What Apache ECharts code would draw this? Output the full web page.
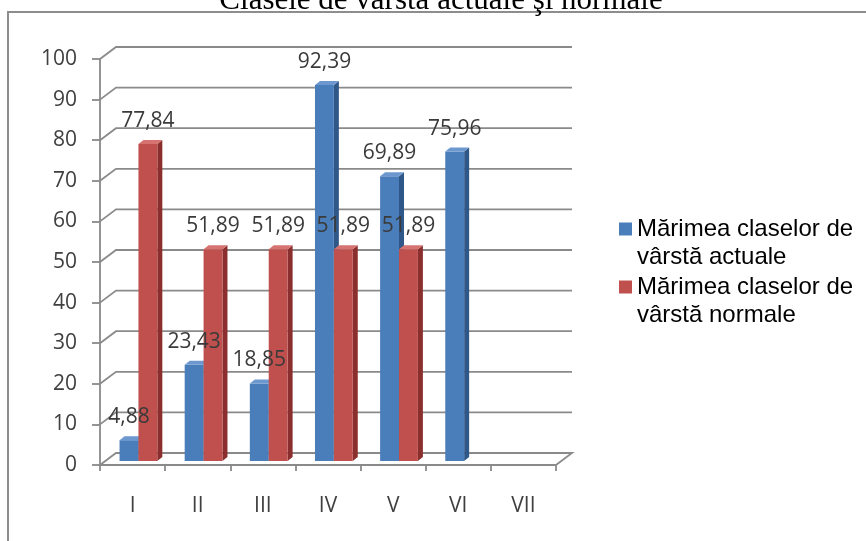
<!DOCTYPE html>
<html>
<head>
<meta charset="utf-8">
<script src="https://cdn.jsdelivr.net/npm/echarts@6/dist/echarts.min.js"></script>
<style>html,body{margin:0;padding:0;background:#fff}#c{width:866px;height:541px}</style>
</head>
<body>
<div id="c"></div>
<script>
var titleText = 'Clasele de vârstă actuale şi normale';
var categories = ['I', 'II', 'III', 'IV', 'V', 'VI', 'VII'];
var seriesNames = ['Mărimea claselor de\nvârstă actuale', 'Mărimea claselor de\nvârstă normale'];
var actualValues = [4.88, 23.43, 18.85, 92.39, 69.89, 75.96, null];
var normalValues = [77.84, 51.89, 51.89, 51.89, 51.89, null, null];
var yTicks = [0, 10, 20, 30, 40, 50, 60, 70, 80, 90, 100];

var DX = 16, DY = -12;       // back-wall depth offset
var BDX = 5, BDY = -4;       // bar depth
var BAR_LIFT = -5;
var labelFont = '21px "Open Sans"';

function fmt(v) { return v.toFixed(2).replace('.', ','); }

function toPairs(arr) {
  var out = [];
  arr.forEach(function (v, i) { if (v != null) out.push([i, v]); });
  return out;
}

function barRenderer(offsetFrac, front, side, top) {
  return function (params, api) {
    var cat = api.value(0), v = api.value(1);
    var p = api.coord([cat, v]);
    var p0 = api.coord([cat, 0]);
    var band = api.size([1, 0])[0];
    var w = band * 0.29;
    var x0 = p[0] + band * offsetFrac, x1 = x0 + w;
    var yt = p[1] + BAR_LIFT, yb = p0[1] - 4;
    return {
      type: 'group',
      children: [
        { type: 'polygon', z2: 1, shape: { points: [[x1, yt], [x1 + BDX, yt + BDY], [x1 + BDX, yb + BDY], [x1, yb]] }, style: { fill: side } },
        { type: 'rect', z2: 2, shape: { x: x0, y: yt, width: w, height: yb - yt }, style: { fill: front } },
        { type: 'polygon', z2: 2, shape: { points: [[x0, yt], [x0 + BDX, yt + BDY], [x1 + BDX, yt + BDY], [x1, yt]] }, style: { fill: top } },
        { type: 'text', z2: 100, style: { text: fmt(v), x: (x0 + x1) / 2, y: yt - 23, align: 'center', verticalAlign: 'middle', font: labelFont, fill: '#3a3a3a' } }
      ]
    };
  };
}

function wallRenderer(params, api) {
  var v = api.value(1);
  var cs = params.coordSys;
  var y = api.coord([0, v])[1];
  var gx = cs.x, gr = cs.x + cs.width;
  var pts = [[gx, y], [gx + DX, y + DY], [gr + DX, y + DY]];
  if (v === 0) pts.push([gr, y]);
  return {
    type: 'polyline',
    shape: { points: pts },
    style: { stroke: '#8a8a8a', lineWidth: 1.8, fill: null }
  };
}

var chart = echarts.init(document.getElementById('c'), null, { renderer: 'canvas' });
chart.setOption({
  backgroundColor: '#fff',
  animation: false,
  graphic: [
    { type: 'rect', shape: { x: 8, y: 12, width: 900, height: 600 }, style: { fill: null, stroke: '#8d8d8d', lineWidth: 2 }, z: -1 },
    { type: 'text', style: { text: titleText, x: 441, y: 16, align: 'center', verticalAlign: 'bottom', font: '31px "Liberation Serif"', fill: '#000' } }
  ],
  grid: { left: 100, right: 310, top: 59, bottom: 76 },
  legend: {
    orient: 'vertical',
    left: 619,
    top: 187,
    padding: 0,
    itemGap: -26,
    itemWidth: 13,
    itemHeight: 13,
    icon: 'rect',
    data: seriesNames,
    formatter: function (name) { return '\n' + name; },
    textStyle: { fontFamily: 'Liberation Sans', fontSize: 24, lineHeight: 28, color: '#000' }
  },
  xAxis: {
    type: 'category',
    data: categories,
    axisLine: { show: true, lineStyle: { color: '#8a8a8a', width: 1.8 } },
    axisTick: { show: true, length: 6, lineStyle: { color: '#8a8a8a', width: 1.8 } },
    axisLabel: { margin: 31, color: '#404040', fontFamily: 'Open Sans', fontSize: 21 },
    splitLine: { show: false }
  },
  yAxis: {
    type: 'value',
    min: 0, max: 100, interval: 10,
    axisLine: { show: true, lineStyle: { color: '#8a8a8a', width: 1.8 } },
    axisTick: { show: true, length: 8, lineStyle: { color: '#8a8a8a', width: 1.8 } },
    axisLabel: { margin: 23, color: '#404040', fontFamily: 'Open Sans', fontSize: 21 },
    splitLine: { show: false }
  },
  series: [
    {
      type: 'custom', name: 'wall', silent: true, z: 1,
      renderItem: wallRenderer,
      data: yTicks.map(function (t) { return [0, t]; }),
      encode: { x: 0, y: 1 }
    },
    {
      type: 'custom', name: seriesNames[0], z: 2,
      itemStyle: { color: '#4a7ebb' },
      renderItem: barRenderer(-0.2, '#4a7ebb', '#2f5787', '#6d98cf'),
      data: toPairs(actualValues),
      encode: { x: 0, y: 1 }
    },
    {
      type: 'custom', name: seriesNames[1], z: 2,
      itemStyle: { color: '#c0504d' },
      renderItem: barRenderer(0.09, '#c0504d', '#8a2f2d', '#d67370'),
      data: toPairs(normalValues),
      encode: { x: 0, y: 1 }
    }
  ]
});
</script>
</body>
</html>
